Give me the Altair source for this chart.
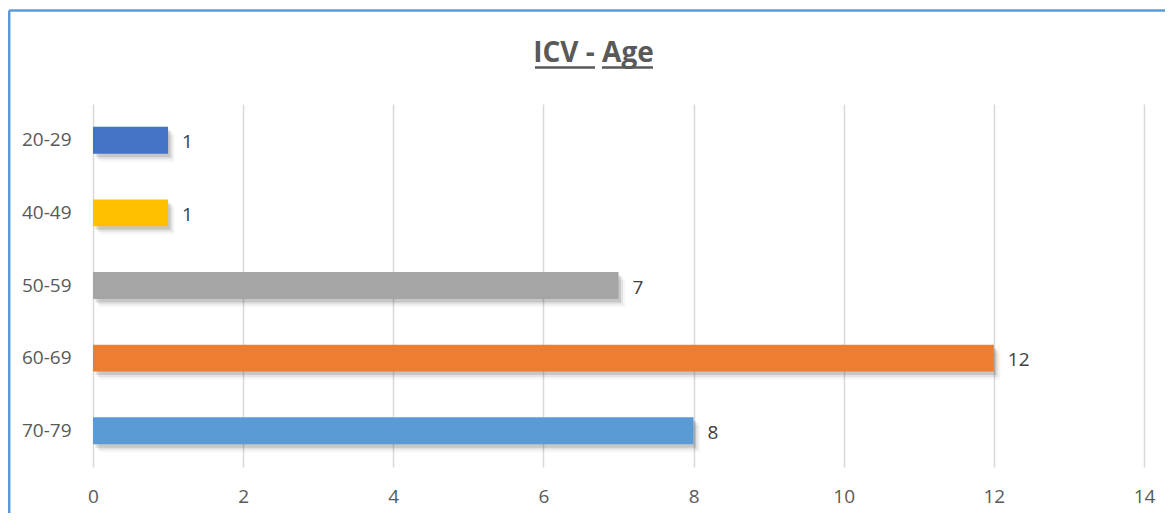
import altair as alt
import pandas as pd

# ---- data ----
ages = ["20-29", "40-49", "50-59", "60-69", "70-79"]
counts = [1, 1, 7, 12, 8]
bar_colors = ["#4472C4", "#FFC000", "#A5A5A5", "#ED7D31", "#5B9BD5"]
x_ticks = [0, 2, 4, 6, 8, 10, 12, 14]
title_text = "ICV - Age"

df = pd.DataFrame({"age": ages, "count": counts, "color": bar_colors})
one = pd.DataFrame({"t": [title_text]})

W, H = 1051, 363
PAD_L, PAD_T = 85, 96
PAD_R = 1157 - PAD_L - W
PAD_B = 505 - PAD_T - H

FONT = "Open Sans"
LABEL_COLOR = "#595959"

y_enc = alt.Y(
    "age:N", sort=ages,
    scale=alt.Scale(paddingInner=0.63, paddingOuter=0.315),
    axis=alt.Axis(title=None, ticks=False, domain=False, grid=False,
                  labelPadding=22, labelFontSize=19, labelFont=FONT,
                  labelColor=LABEL_COLOR),
)
x_enc = alt.X(
    "count:Q",
    scale=alt.Scale(domain=[0, 14], nice=False),
    axis=alt.Axis(values=x_ticks, format="d", title=None, ticks=False, domain=False,
                  grid=True, gridColor="#D9D9D9", gridWidth=1.5, labelFlush=False,
                  labelPadding=20, labelFontSize=19, labelFont=FONT,
                  labelColor=LABEL_COLOR),
)

base = alt.Chart(df)

shadow0 = base.mark_bar(color="black", opacity=0.04, xOffset=6.5, yOffset=8).encode(x=x_enc, y=y_enc)
shadow1 = base.mark_bar(color="black", opacity=0.07, xOffset=4.5, yOffset=5.5).encode(x=x_enc, y=y_enc)
shadow2 = base.mark_bar(color="black", opacity=0.12, xOffset=2.5, yOffset=3.5).encode(x=x_enc, y=y_enc)
bars = base.mark_bar().encode(
    x=x_enc, y=y_enc,
    color=alt.Color("color:N", scale=None, legend=None),
)
labels = base.mark_text(align="left", baseline="middle", dx=14, dy=2,
                        fontSize=19, font=FONT, color="#404040").encode(
    x="count:Q", y=alt.Y("age:N", sort=ages), text="count:Q")

title = alt.Chart(one).mark_text(align="center", baseline="alphabetic",
                                 fontSize=28, fontWeight="bold", font=FONT,
                                 color=LABEL_COLOR).encode(
    x=alt.value(500.5), y=alt.value(-42), text="t:N")

ul1 = alt.Chart(one).mark_rule(color=LABEL_COLOR, strokeWidth=2.5).encode(
    x=alt.value(442), x2=alt.value(502), y=alt.value(-36.5))
ul2 = alt.Chart(one).mark_rule(color=LABEL_COLOR, strokeWidth=2.5).encode(
    x=alt.value(509), x2=alt.value(560), y=alt.value(-36.5))

border_left = alt.Chart(one).mark_rule(color="#5B9BD5", strokeWidth=2.5).encode(
    x=alt.value(-83.8), y=alt.value(-93.5), y2=alt.value(409))
border_top = alt.Chart(one).mark_rule(color="#5B9BD5", strokeWidth=2.5).encode(
    x=alt.value(-83.8), x2=alt.value(1072), y=alt.value(-93.5))

chart = alt.layer(
    shadow0, shadow1, shadow2, bars, labels, title, ul1, ul2, border_left, border_top
).properties(
    width=W, height=H,
    autosize=alt.AutoSizeParams(type="none"),
    padding={"left": PAD_L, "top": PAD_T, "right": PAD_R, "bottom": PAD_B},
    background="white",
).configure_view(stroke=None)

chart.save("out.html", embed_options={"renderer": "svg", "actions": False})
